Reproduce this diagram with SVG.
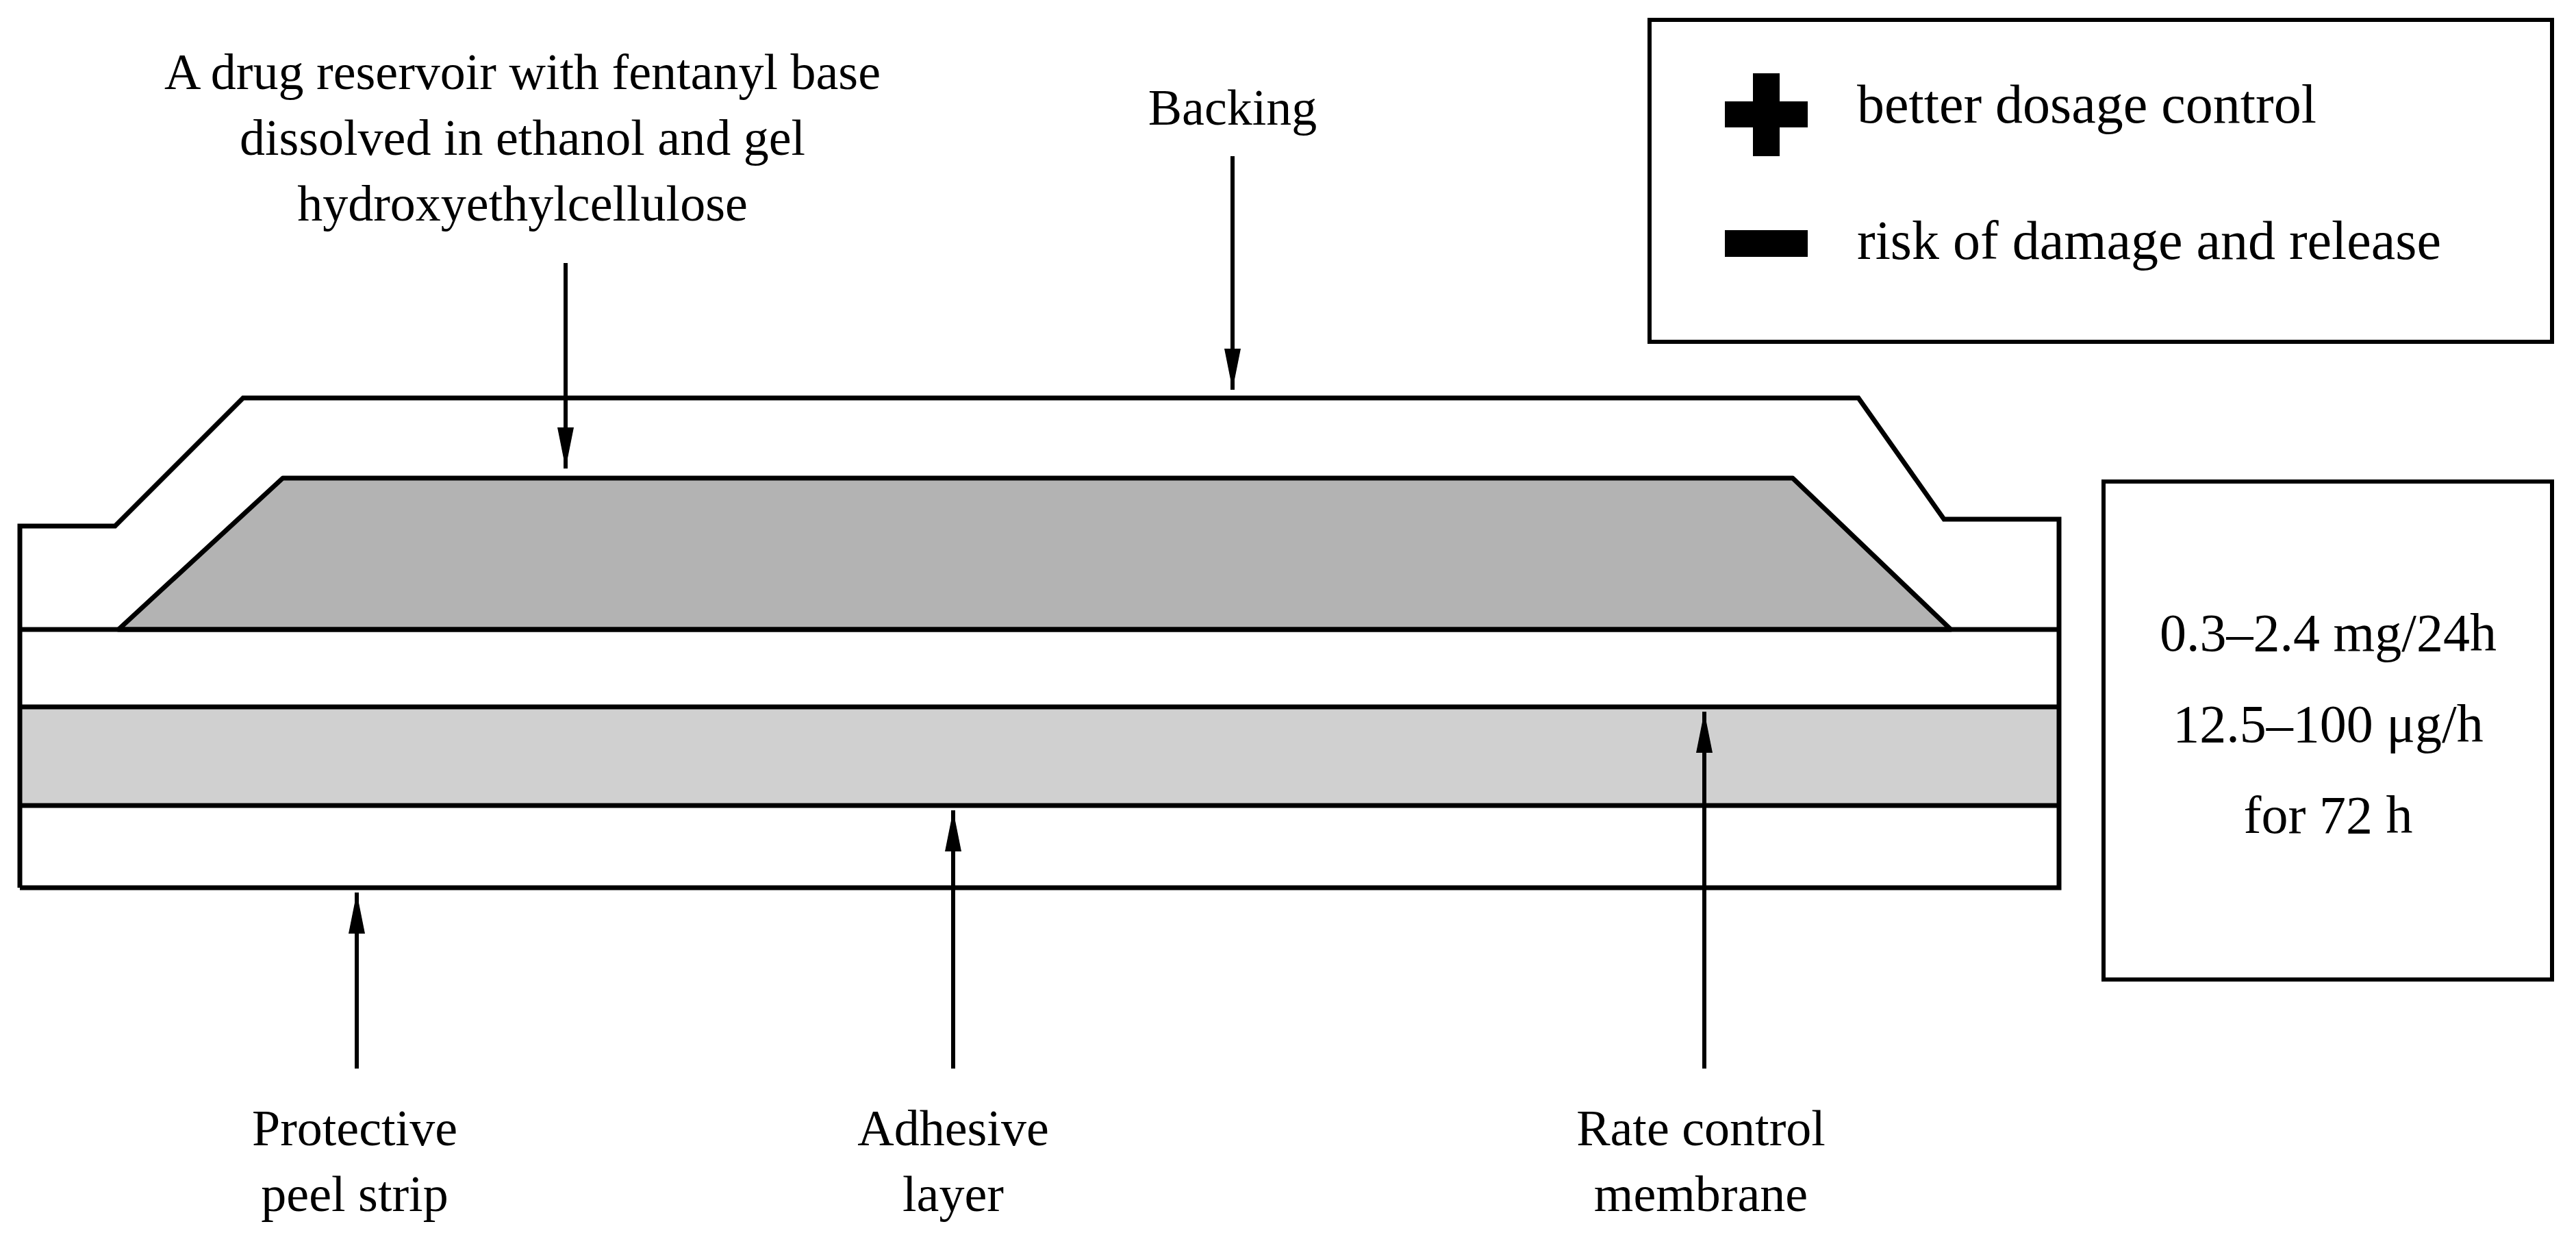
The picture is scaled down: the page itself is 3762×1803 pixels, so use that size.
<svg xmlns="http://www.w3.org/2000/svg" width="3762" height="1803" viewBox="0 0 3762 1803">
<style>
.t{font-family:"Liberation Serif","Times New Roman",serif;font-size:74px;fill:#000;text-anchor:middle}
.g{font-size:80px;text-anchor:start}
.l{fill:none;stroke:#000;stroke-width:7}
.a{stroke:#000;stroke-width:6;fill:none;marker-end:url(#ah)}
</style>
<defs><marker id="ah" viewBox="0 0 10 10" refX="10" refY="5" markerWidth="10" markerHeight="10" markerUnits="strokeWidth" orient="auto"><path d="M0,3 L10,5 L0,7 z" fill="#000"/></marker></defs>
<rect width="3762" height="1803" fill="#fff"/>
<g id="patch">
<polygon points="29,768 168,768 355,581 2714,581 2839,758 3007,758 3007,1296 29,1296" fill="#fff"/>
<rect x="29" y="1032" width="2978" height="144" fill="#d0d0d0"/>
<polygon points="173,919 413,698 2618,698 2849,919" fill="#b3b3b3" stroke="#000" stroke-width="7" stroke-linejoin="round"/>
<polyline class="l" points="29,1296 29,768 168,768 355,581 2714,581 2839,758 3007,758 3007,1296 29,1296"/>
<line class="l" x1="29" y1="919" x2="3007" y2="919"/>
<line class="l" x1="29" y1="1032" x2="3007" y2="1032"/>
<line class="l" x1="29" y1="1176" x2="3007" y2="1176"/>
</g>
<g id="legend">
<rect x="2409" y="29" width="1318" height="470" fill="none" stroke="#000" stroke-width="6"/>
<rect x="2519" y="148" width="121" height="38" fill="#000"/>
<rect x="2560" y="107" width="39" height="121" fill="#000"/>
<rect x="2519" y="336" width="121" height="39" fill="#000"/>
<text class="t g" x="2712" y="179">better dosage control</text>
<text class="t g" x="2712" y="378">risk of damage and release</text>
</g>
<g id="rates">
<rect x="3072" y="703" width="655" height="727" fill="none" stroke="#000" stroke-width="6"/>
<text class="t" x="3400" y="950" style="font-size:78px">0.3–2.4 mg/24h</text>
<text class="t" x="3400" y="1083" style="font-size:78px">12.5–100 μg/h</text>
<text class="t" x="3400" y="1216" style="font-size:78px">for 72 h</text>
</g>
<g id="labels">
<text class="t" x="763" y="130">A drug reservoir with fentanyl base</text>
<text class="t" x="763" y="226">dissolved in ethanol and gel</text>
<text class="t" x="763" y="322">hydroxyethylcellulose</text>
<text class="t" x="1800" y="182">Backing</text>
<text class="t" x="518" y="1672">Protective</text>
<text class="t" x="518" y="1768">peel strip</text>
<text class="t" x="1392" y="1672">Adhesive</text>
<text class="t" x="1392" y="1768">layer</text>
<text class="t" x="2484" y="1672">Rate control</text>
<text class="t" x="2484" y="1768">membrane</text>
</g>
<g id="connectors">
<line class="a" x1="826" y1="384" x2="826" y2="684"/>
<line class="a" x1="1800" y1="228" x2="1800" y2="569"/>
<line class="a" x1="521" y1="1560" x2="521" y2="1303"/>
<line class="a" x1="1392" y1="1560" x2="1392" y2="1183"/>
<line class="a" x1="2489" y1="1560" x2="2489" y2="1039"/>
</g>
</svg>
